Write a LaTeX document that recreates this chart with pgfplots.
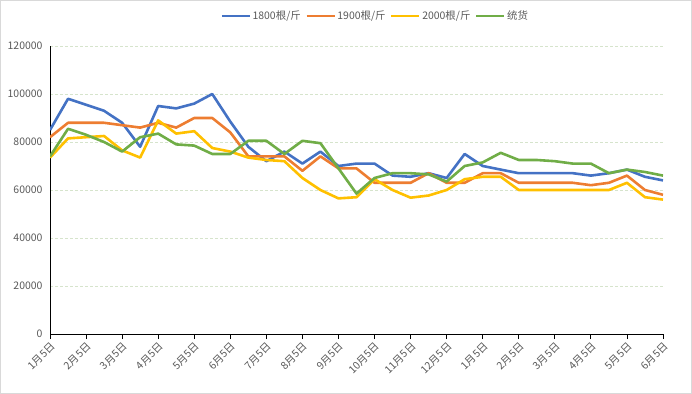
\documentclass[border=0pt]{standalone}
\usepackage{fontspec}
\setmainfont{Noto Sans CJK SC}
\usepackage{pgfplots}
\pgfplotsset{compat=1.18}
\usepackage{pgfplotstable}
\definecolor{sblue}{HTML}{4472C4}
\definecolor{sorange}{HTML}{ED7D31}
\definecolor{sgold}{HTML}{FFC000}
\definecolor{sgreen}{HTML}{70AD47}
\definecolor{labelgray}{HTML}{595959}
\definecolor{gridc}{RGB}{214,228,204}
\definecolor{bordergray}{HTML}{D9D9D9}
\pgfplotstableread{
i blue orange yellow green
0 85000 82000 73500 74000
1 98000 88000 81500 85500
2 95500 88000 82000 83000
3 93000 88000 82500 80000
4 88000 87000 76500 76000
5 78000 86000 73500 82000
6 95000 88000 89000 83500
7 94000 86000 83500 79000
8 96000 90000 84500 78500
9 100000 90000 77500 75000
10 88500 84000 76000 75000
11 78000 74000 73500 80500
12 72000 74000 72500 80500
13 76000 74000 72000 75000
14 71000 68000 65000 80500
15 76000 74000 60000 79500
16 70000 69000 56500 69000
17 71000 69000 57000 58500
18 71000 63000 64500 65000
19 66000 63000 60000 67000
20 65500 63000 56800 67000
21 67000 67000 57700 66500
22 65000 63000 60000 63500
23 75000 63000 64500 70000
24 70000 67000 65500 71500
25 68500 67000 65500 75500
26 67000 63000 60000 72500
27 67000 63000 60000 72500
28 67000 63000 60000 72000
29 67000 63000 60000 71000
30 66000 62000 60000 71000
31 67000 63000 60000 67000
32 68500 66000 63000 68500
33 65500 60000 57000 67500
34 64000 58000 56000 66000
}\datatable
\begin{document}
\begin{tikzpicture}
\path[use as bounding box] (0bp,0bp) rectangle (692bp,394bp);
\draw[color=bordergray, line width=1bp] (0.5bp,0.5bp) rectangle (691.5bp,393.5bp);
\begin{axis}[
  at={(50bp,60bp)}, anchor=south west,
  scale only axis, width=613bp, height=288bp,
  xmin=0, xmax=34, ymin=0, ymax=120000,
  xtick={0,2,...,34},
  xticklabels={1月5日,2月5日,3月5日,4月5日,5月5日,6月5日,7月5日,8月5日,9月5日,10月5日,11月5日,12月5日,1月5日,2月5日,3月5日,4月5日,5月5日,6月5日},
  ytick={0,20000,...,120000},
  scaled y ticks=false,
  /pgf/number format/.cd, fixed, 1000 sep={}, assume math mode=true, /pgfplots/.cd,
  axis x line*=bottom, axis y line*=left,
  axis line style={black, line width=0.8bp},
  xtick align=outside, major tick length=5bp,
  xtick style={black, line width=0.8bp},
  ytick style={draw=none},
  ymajorgrids,
  major grid style={color=gridc, line width=0.75bp, dash pattern=on 3bp off 2bp},
  tick label style={font=\fontsize{10.5}{12}\selectfont, text=labelgray},
  xticklabel style={rotate=45, anchor=north east, inner sep=1.5bp},
  yticklabel style={xshift=-4bp},
  legend columns=4,
  legend style={at={(0.5302,1.104)}, anchor=center, draw=none, fill=none,
    font=\fontsize{10.5}{12}\selectfont, text=labelgray,
    nodes={inner sep=1.5bp},
    /tikz/every even column/.append style={column sep=3bp}},
  legend image code/.code={\draw[#1, line width=2.6bp] (0bp,0bp) -- (28bp,0bp);},
  every axis plot/.append style={line width=2.6bp, line join=round, mark=none},
]
\addplot[sblue] table[x=i, y=blue] {\datatable};
\addlegendentry{1800根/斤}
\addplot[sorange] table[x=i, y=orange] {\datatable};
\addlegendentry{1900根/斤}
\addplot[sgold] table[x=i, y=yellow] {\datatable};
\addlegendentry{2000根/斤}
\addplot[sgreen] table[x=i, y=green] {\datatable};
\addlegendentry{统货}
\end{axis}
\end{tikzpicture}
\end{document}
